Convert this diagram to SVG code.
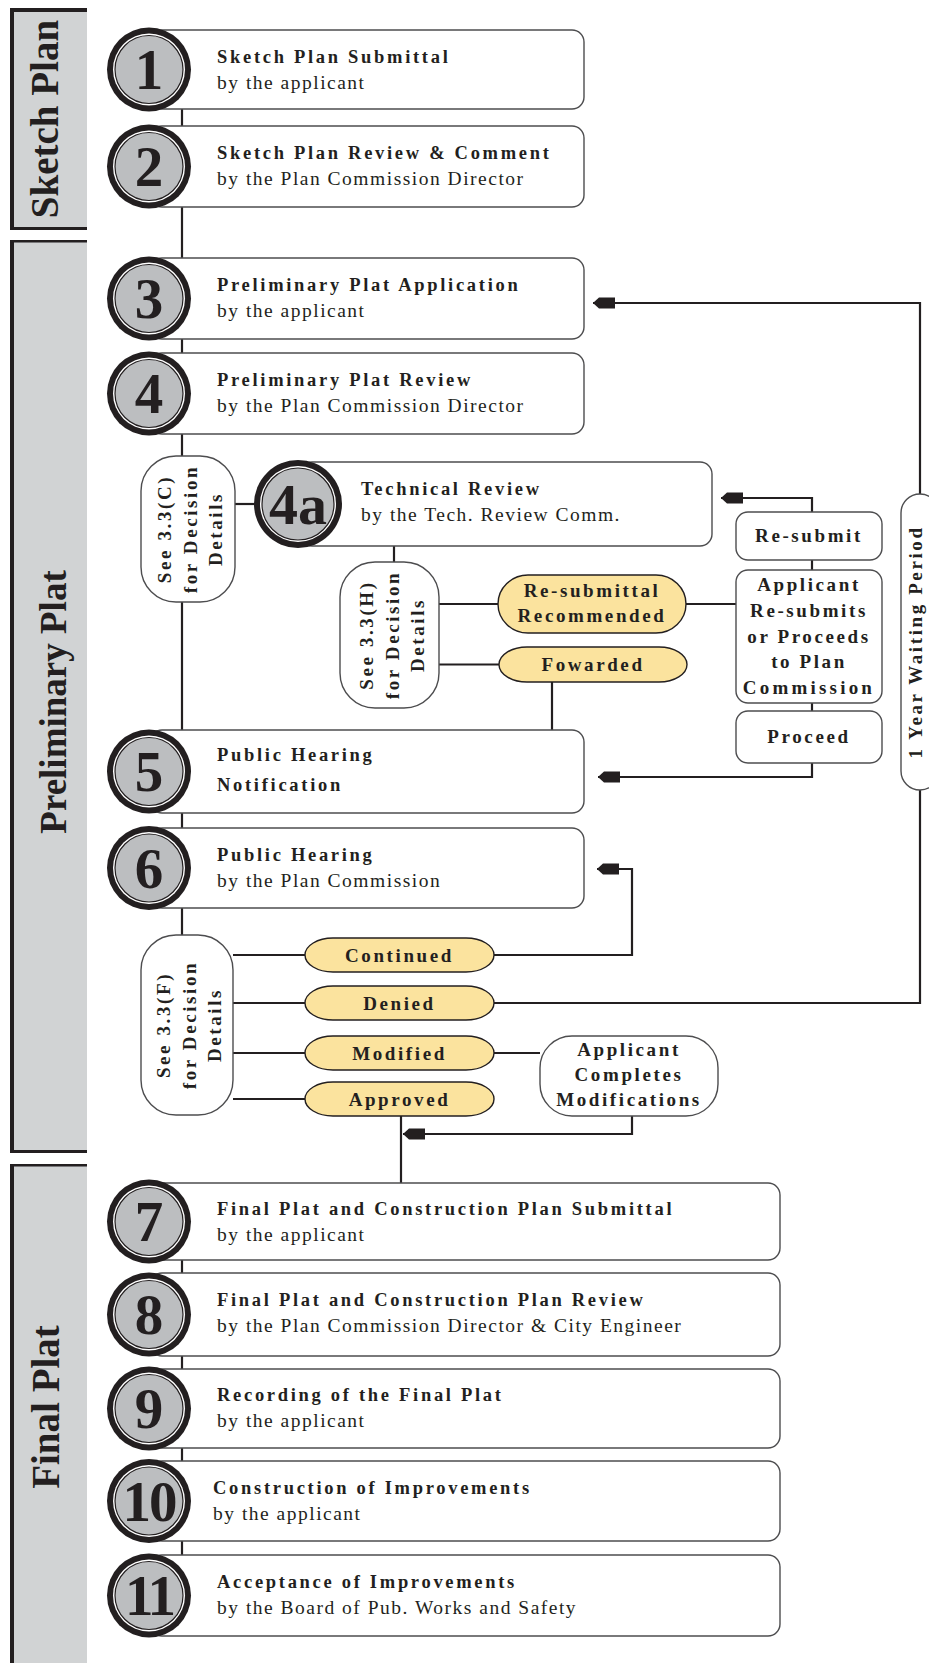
<svg xmlns="http://www.w3.org/2000/svg" width="929" height="1663" viewBox="0 0 929 1663">
<defs>
<style>
.sb{fill:#d1d3d4}
.bar{fill:#231f20}
.box{fill:#fff;stroke:#4d4d4f;stroke-width:1.4}
.oval{fill:#fbe39e;stroke:#231f20;stroke-width:1.4}
.ln{fill:none;stroke:#231f20;stroke-width:2.2}
.t{font-family:"Liberation Serif","Times New Roman",serif;fill:#231f20}
.ti{font-weight:bold;font-size:18.5px;letter-spacing:2.7px}
.su{font-size:19.5px;letter-spacing:1.5px}
.lb{font-weight:bold;font-size:19px;letter-spacing:2.6px;text-anchor:middle}
.num{font-weight:bold;font-size:57px;text-anchor:middle}
.side{font-weight:bold;font-size:39px;text-anchor:middle}
.c1{fill:#231f20}
.c2{fill:#fff}
.c3{fill:#bcbec0;stroke:#231f20;stroke-width:1.2}
</style>
<marker id="ah" markerUnits="userSpaceOnUse" markerWidth="22" markerHeight="12" viewBox="0 0 22 12" refX="22" refY="6" orient="auto">
<path d="M22,6 L16,0.5 L0,0.5 L0,11.5 L16,11.5 Z" fill="#231f20"/>
</marker>
<g id="circ"><circle r="42" class="c1"/><circle r="36" class="c2"/><circle r="34" class="c3"/></g>
<g id="circA"><circle r="44" class="c1"/><circle r="38" class="c2"/><circle r="36" class="c3"/></g>
</defs>

<g id="sidebars">
<rect class="sb" x="14" y="8" width="73" height="222"/>
<rect class="bar" x="10" y="8" width="4" height="222"/>
<rect class="bar" x="10" y="8" width="77" height="4"/>
<rect class="bar" x="10" y="227" width="77" height="3"/>
<text class="t side" transform="translate(58,119) rotate(-90)">Sketch Plan</text>

<rect class="sb" x="14" y="240" width="73" height="913"/>
<rect class="bar" x="10" y="240" width="4" height="913"/>
<rect class="bar" x="10" y="240" width="77" height="2.5"/>
<rect class="bar" x="10" y="1150" width="77" height="3"/>
<text class="t side" style="font-size:37px" transform="translate(66,702) rotate(-90)">Preliminary Plat</text>

<rect class="sb" x="14" y="1164" width="73" height="499"/>
<rect class="bar" x="10" y="1164" width="4" height="499"/>
<rect class="bar" x="10" y="1164" width="77" height="2.5"/>
<text class="t side" transform="translate(59,1407) rotate(-90)">Final Plat</text>
</g>

<g id="connectors">
<path class="ln" d="M182,109 V935"/>
<path class="ln" d="M182,1183 V1555"/>
<path class="ln" d="M235,504 H256"/>
<path class="ln" d="M394,546 V562"/>
<path class="ln" d="M439,604 H498"/>
<path class="ln" d="M439,664.5 H499"/>
<path class="ln" d="M552,682 V730"/>
<path class="ln" d="M686,604 H736"/>
<path class="ln" d="M812,512 V498 H721" marker-end="url(#ah)"/>
<path class="ln" d="M812,560 V570"/>
<path class="ln" d="M812,703 V711"/>
<path class="ln" d="M812,763 V777 H598" marker-end="url(#ah)"/>
<path class="ln" d="M920,494 V303 H593" marker-end="url(#ah)"/>
<path class="ln" d="M233,955 H305"/>
<path class="ln" d="M233,1003 H305"/>
<path class="ln" d="M233,1053 H305"/>
<path class="ln" d="M233,1099 H305"/>
<path class="ln" d="M494,955 H632 V869 H597" marker-end="url(#ah)"/>
<path class="ln" d="M494,1003 H920 V790"/>
<path class="ln" d="M494,1053 H540"/>
<path class="ln" d="M401,1116 V1183"/>
<path class="ln" d="M632,1116 V1134 H403" marker-end="url(#ah)"/>
</g>

<g id="step1">
<rect class="box" x="150" y="30" width="434" height="79" rx="12"/>
<use href="#circ" x="149" y="69.5"/>
<text class="t num" x="149" y="89">1</text>
<text class="t ti" x="217" y="63">Sketch Plan Submittal</text>
<text class="t su" x="217" y="89">by the applicant</text>
</g>
<g id="step2">
<rect class="box" x="150" y="126" width="434" height="81" rx="12"/>
<use href="#circ" x="149" y="166.5"/>
<text class="t num" x="149" y="186">2</text>
<text class="t ti" x="217" y="159">Sketch Plan Review &amp; Comment</text>
<text class="t su" x="217" y="185">by the Plan Commission Director</text>
</g>
<g id="step3">
<rect class="box" x="150" y="258" width="434" height="81" rx="12"/>
<use href="#circ" x="149" y="298.5"/>
<text class="t num" x="149" y="318">3</text>
<text class="t ti" x="217" y="291">Preliminary Plat Application</text>
<text class="t su" x="217" y="317">by the applicant</text>
</g>
<g id="step4">
<rect class="box" x="150" y="353" width="434" height="81" rx="12"/>
<use href="#circ" x="149" y="393.5"/>
<text class="t num" x="149" y="413">4</text>
<text class="t ti" x="217" y="386">Preliminary Plat Review</text>
<text class="t su" x="217" y="412">by the Plan Commission Director</text>
</g>
<g id="see33C">
<rect class="box" x="141" y="456" width="94" height="146" rx="35"/>
<g transform="translate(188,529) rotate(-90)">
<text class="t lb" x="0" y="-17">See 3.3(C)</text>
<text class="t lb" x="0" y="9">for Decision</text>
<text class="t lb" x="0" y="34">Details</text>
</g>
</g>
<g id="step4a">
<rect class="box" x="300" y="462" width="412" height="84" rx="12"/>
<use href="#circA" x="298" y="504"/>
<text class="t num" x="298" y="524" style="font-size:58px">4a</text>
<text class="t ti" x="361" y="495">Technical Review</text>
<text class="t su" x="361" y="521">by the Tech. Review Comm.</text>
</g>
<g id="see33H">
<rect class="box" x="340" y="562" width="99" height="146" rx="35"/>
<g transform="translate(389.5,635) rotate(-90)">
<text class="t lb" x="0" y="-17">See 3.3(H)</text>
<text class="t lb" x="0" y="9">for Decision</text>
<text class="t lb" x="0" y="34">Details</text>
</g>
</g>
<g id="resubmittal">
<rect class="oval" x="498" y="575" width="188" height="58" rx="30" ry="29"/>
<text class="t lb" x="592" y="597">Re-submittal</text>
<text class="t lb" x="592" y="622">Recommended</text>
</g>
<g id="forwarded">
<rect class="oval" x="499" y="647" width="188" height="35" rx="28" ry="17.5"/>
<text class="t lb" x="593" y="671">Fowarded</text>
</g>
<g id="resubmit">
<rect class="box" x="736" y="512" width="146" height="48" rx="12"/>
<text class="t lb" x="809" y="542">Re-submit</text>
</g>
<g id="applicant">
<rect class="box" x="736" y="570" width="146" height="133" rx="12"/>
<text class="t lb" x="809" y="591">Applicant</text>
<text class="t lb" x="809" y="617">Re-submits</text>
<text class="t lb" x="809" y="643">or Proceeds</text>
<text class="t lb" x="809" y="668">to Plan</text>
<text class="t lb" x="809" y="694" style="letter-spacing:3.2px">Commission</text>
</g>
<g id="proceed">
<rect class="box" x="736" y="711" width="146" height="52" rx="12"/>
<text class="t lb" x="809" y="743">Proceed</text>
</g>
<g id="waiting">
<rect class="box" x="901" y="494" width="38" height="296" rx="19"/>
<text class="t lb" transform="translate(922,642) rotate(-90)">1 Year Waiting Period</text>
</g>
<g id="step5">
<rect class="box" x="150" y="730" width="434" height="83" rx="12"/>
<use href="#circ" x="149" y="771.5"/>
<text class="t num" x="149" y="791">5</text>
<text class="t ti" x="217" y="761">Public Hearing</text>
<text class="t ti" x="217" y="791">Notification</text>
</g>
<g id="step6">
<rect class="box" x="150" y="828" width="434" height="80" rx="12"/>
<use href="#circ" x="149" y="868"/>
<text class="t num" x="149" y="887.5">6</text>
<text class="t ti" x="217" y="861">Public Hearing</text>
<text class="t su" x="217" y="887">by the Plan Commission</text>
</g>
<g id="see33F">
<rect class="box" x="141" y="935" width="92" height="180" rx="35"/>
<g transform="translate(187,1025) rotate(-90)">
<text class="t lb" x="0" y="-17">See 3.3(F)</text>
<text class="t lb" x="0" y="9">for Decision</text>
<text class="t lb" x="0" y="34">Details</text>
</g>
</g>
<g id="continued">
<rect class="oval" x="305" y="938" width="189" height="34" rx="28" ry="17"/>
<text class="t lb" x="399.5" y="962">Continued</text>
</g>
<g id="denied">
<rect class="oval" x="305" y="986" width="189" height="34" rx="28" ry="17"/>
<text class="t lb" x="399.5" y="1010">Denied</text>
</g>
<g id="modified">
<rect class="oval" x="305" y="1036" width="189" height="34" rx="28" ry="17"/>
<text class="t lb" x="399.5" y="1060">Modified</text>
</g>
<g id="approved">
<rect class="oval" x="305" y="1082" width="189" height="34" rx="28" ry="17"/>
<text class="t lb" x="399.5" y="1106">Approved</text>
</g>
<g id="completes">
<rect class="box" x="540" y="1036" width="178" height="80" rx="32"/>
<text class="t lb" x="629" y="1056">Applicant</text>
<text class="t lb" x="629" y="1081">Completes</text>
<text class="t lb" x="629" y="1106">Modifications</text>
</g>
<g id="step7">
<rect class="box" x="150" y="1183" width="630" height="77" rx="12"/>
<use href="#circ" x="149" y="1221.5"/>
<text class="t num" x="149" y="1241">7</text>
<text class="t ti" x="217" y="1215">Final Plat and Construction Plan Submittal</text>
<text class="t su" x="217" y="1241">by the applicant</text>
</g>
<g id="step8">
<rect class="box" x="150" y="1273" width="630" height="83" rx="12"/>
<use href="#circ" x="149" y="1314.5"/>
<text class="t num" x="149" y="1334">8</text>
<text class="t ti" x="217" y="1306">Final Plat and Construction Plan Review</text>
<text class="t su" x="217" y="1332">by the Plan Commission Director &amp; City Engineer</text>
</g>
<g id="step9">
<rect class="box" x="150" y="1369" width="630" height="79" rx="12"/>
<use href="#circ" x="149" y="1408.5"/>
<text class="t num" x="149" y="1428">9</text>
<text class="t ti" x="217" y="1401">Recording of the Final Plat</text>
<text class="t su" x="217" y="1427">by the applicant</text>
</g>
<g id="step10">
<rect class="box" x="150" y="1461" width="630" height="80" rx="12"/>
<use href="#circ" x="149" y="1501"/>
<text class="t num" x="149" y="1520.5" letter-spacing="-2">10</text>
<text class="t ti" x="213" y="1494">Construction of Improvements</text>
<text class="t su" x="213" y="1520">by the applicant</text>
</g>
<g id="step11">
<rect class="box" x="150" y="1555" width="630" height="81" rx="12"/>
<use href="#circ" x="149" y="1595.5"/>
<text class="t num" x="149" y="1615" letter-spacing="-3">11</text>
<text class="t ti" x="217" y="1588">Acceptance of Improvements</text>
<text class="t su" x="217" y="1614">by the Board of Pub. Works and Safety</text>
</g>
</svg>
